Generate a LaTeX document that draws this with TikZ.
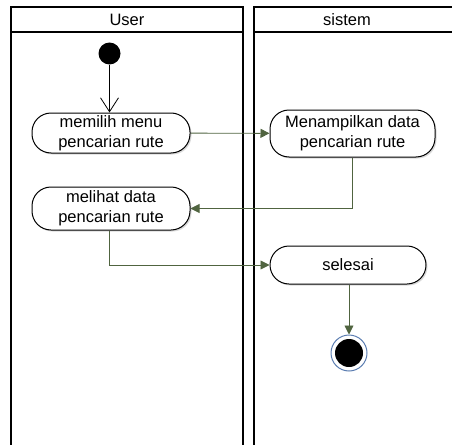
\documentclass[tikz,border=0pt]{standalone}
\usepackage{fontspec}
\setmainfont{Liberation Sans}
\usepackage{tikz}
\usetikzlibrary{arrows.meta,shadows}
\definecolor{flowgreen}{RGB}{80,100,64}
\definecolor{endblue}{RGB}{91,125,177}
\tikzset{lane/.style={draw, line width=1.6pt},
    lane title/.style={font=\fontsize{16.5}{20}\selectfont},
    action/.style={draw, line width=1pt, rounded corners=19pt, fill=white, align=center,
        font=\fontsize{16.5}{20}\selectfont, inner sep=0pt,
        drop shadow={opacity=0.3, shadow xshift=1.5pt, shadow yshift=-1.5pt}},
    flow/.style={draw=flowgreen, line width=0.9pt,
        -{Triangle[length=9pt,width=9pt]}},
    start/.style={draw=none, circle, fill=black, minimum size=22pt, inner sep=0pt},
    stop/.style={circle, draw=endblue, line width=1pt, fill=white,
        minimum size=36pt, inner sep=0pt,
        path picture={\fill[black] (path picture bounding box.center) circle (14pt);}}}

\begin{document}
\begin{tikzpicture}[x=1pt,y=-1pt]
    \useasboundingbox (0,0) rectangle (452,444);
    \clip (0,0) rectangle (452,444);
    % swimlanes
    \draw[lane] (11,7) rectangle (243,470);
    \draw[lane] (11,32) -- (243,32);
    \draw[lane] (254,7) rectangle (490,470);
    \draw[lane] (254,32) -- (490,32);
    \node[lane title] (user) at (127,19.5) {User};
    \node[lane title] (sistem) at (347,19.5) {sistem};
    % activities
    \node[start] (start) at (109.5,53.5) {};
    \node[action, minimum width=158pt, minimum height=40pt] (pilih) at (111,133)
        {memilih menu\\pencarian rute};
    \node[action, minimum width=165pt, minimum height=47pt] (tampil) at (352.5,133.5)
        {Menampilkan data\\pencarian rute};
    \node[action, minimum width=158pt, minimum height=43pt] (lihat) at (111,208.5)
        {melihat data\\pencarian rute};
    \node[action, minimum width=156pt, minimum height=38pt] (selesai) at (348,265)
        {selesai};
    \node[stop] (akhir) at (349,353) {};
    % flows
    \draw[line width=0.8pt, -{Straight Barb[length=14pt,width=18pt]}]
        (start) -- (start |- pilih.north);
    \draw[flow] (pilih) -- (tampil);
    \draw[flow] (tampil.south) |- (lihat.east);
    \draw[flow] (lihat.south -| start) |- (selesai.west);
    \draw[flow] (selesai.south -| akhir) -- (akhir);
\end{tikzpicture}
\end{document}
